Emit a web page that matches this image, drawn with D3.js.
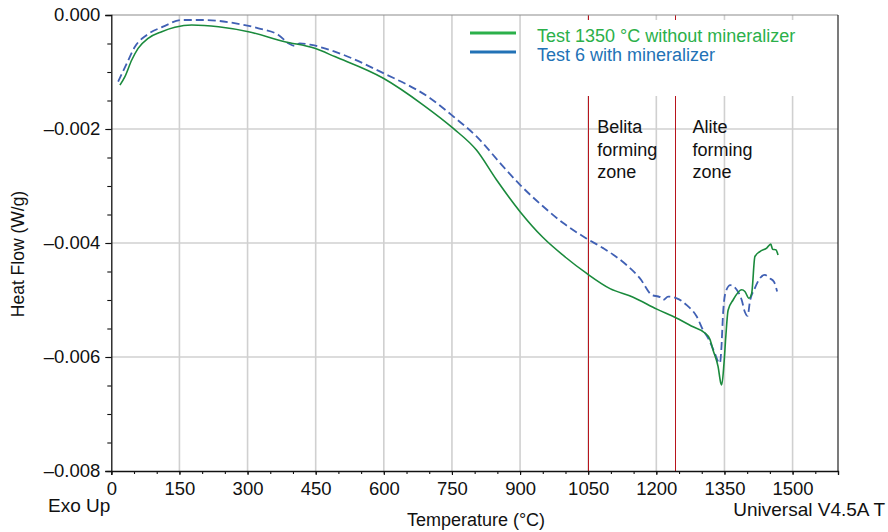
<!DOCTYPE html>
<html><head><meta charset="utf-8">
<script src="https://cdn.jsdelivr.net/npm/d3@7"></script>
<style>
body{margin:0;background:#fff;}
svg{display:block;font-family:"Liberation Sans",Arial,Helvetica,sans-serif;}
</style></head>
<body><svg id="chart" width="888" height="532"></svg>
<script>
// ---- data ----
const greenT = [19,30,45,59,81,111,140,177,236,302,382,448,492,599,687,753,804,848,900,950,1000,1046,1098,1149,1201,1245,1281,1307,1318,1325,1336,1342,1344,1349,1353,1358,1369,1388,1395,1404,1410,1417,1428,1443,1452,1456,1463,1468];
const greenH = [-0.00123,-0.00108,-0.00079,-0.000585,-0.00041,-0.000293,-0.000216,-0.000175,-0.000205,-0.000293,-0.000468,-0.000585,-0.00073,-0.00111,-0.00158,-0.00199,-0.00237,-0.00289,-0.00345,-0.0039,-0.00425,-0.00453,-0.0048,-0.00495,-0.00516,-0.00532,-0.00547,-0.00558,-0.00569,-0.00588,-0.00617,-0.00646,-0.00649,-0.00611,-0.00564,-0.00518,-0.005,-0.00482,-0.00485,-0.00497,-0.00488,-0.00424,-0.00415,-0.00409,-0.00402,-0.00411,-0.00412,-0.00421];
const blueT = [15,34,52,78,114,155,206,265,324,368,390,404,415,441,492,599,702,753,804,863,900,951,995,1046,1083,1135,1164,1190,1208,1215,1226,1245,1267,1289,1303,1314,1329,1336,1340,1343,1347,1353,1363,1377,1388,1395,1401,1406,1417,1428,1439,1450,1459,1466];
const blueH = [-0.00117,-0.00085,-0.000556,-0.00035,-0.000205,-0.000088,-0.000088,-0.000135,-0.000234,-0.00035,-0.000497,-0.000544,-0.000497,-0.000526,-0.000643,-0.00102,-0.00146,-0.00178,-0.00213,-0.00266,-0.00298,-0.00336,-0.00365,-0.00392,-0.00409,-0.00439,-0.00462,-0.00491,-0.00495,-0.005,-0.00494,-0.00497,-0.00509,-0.00529,-0.00553,-0.00567,-0.00594,-0.00608,-0.00611,-0.00588,-0.00523,-0.00485,-0.00474,-0.00482,-0.005,-0.00521,-0.00528,-0.00503,-0.00479,-0.00462,-0.00456,-0.00462,-0.00468,-0.00485];
const xTicks = [0,150,300,450,600,750,900,1050,1200,1350,1500];
const yTicks = [0,-0.002,-0.004,-0.006,-0.008];
const zoneLines = [1050,1242];
const seriesNames = ["Test 1350 °C without mineralizer","Test 6 with mineralizer"];
const zoneLabels = [["Belita","forming","zone"],["Alite","forming","zone"]];

// ---- layout ----
const L=111.3, R=838, T=15, B=471;
const svg = d3.select("#chart");
const x = d3.scaleLinear().domain([0,1600]).range([L,R]);
const y = d3.scaleLinear().domain([-0.008,0]).range([B,T]);
const crisp = v => Math.round(v) + 0.5;

// grid
svg.append("g").selectAll("line").data(xTicks.filter(d=>d>0)).join("line")
  .attr("x1",d=>x(d)).attr("x2",d=>x(d)).attr("y1",T).attr("y2",B)
  .attr("stroke","#d0d0d0").attr("stroke-width",1.6);
svg.append("g").selectAll("line").data(yTicks.filter(d=>d<0 && d>-0.008)).join("line")
  .attr("x1",L).attr("x2",R).attr("y1",d=>y(d)).attr("y2",d=>y(d))
  .attr("stroke","#d0d0d0").attr("stroke-width",1.6);

// zone lines
svg.append("g").selectAll("line").data(zoneLines).join("line")
  .attr("x1",d=>crisp(x(d))).attr("x2",d=>crisp(x(d))).attr("y1",T).attr("y2",B)
  .attr("stroke","#b8141c").attr("stroke-width",1);

// legend background box
svg.append("rect").attr("x",525).attr("y",20).attr("width",R-525-0.5).attr("height",76).attr("fill","#fff");

// frame: top gray, right black
svg.append("line").attr("x1",L).attr("x2",R).attr("y1",T).attr("y2",T).attr("stroke","#8c8c8c").attr("stroke-width",1.2);
svg.append("line").attr("x1",R).attr("x2",R).attr("y1",T).attr("y2",B).attr("stroke","#222").attr("stroke-width",1.2);

// curves
const line = d3.line().x(d=>x(d[0])).y(d=>y(d[1])).curve(d3.curveMonotoneX);
const gData = greenT.map((t,i)=>[t,greenH[i]]);
const bData = blueT.map((t,i)=>[t,blueH[i]]);
svg.append("path").datum(bData).attr("d",line).attr("fill","none")
  .attr("stroke","#4060b4").attr("stroke-width",1.8).attr("stroke-dasharray","8,4");
svg.append("path").datum(gData).attr("d",line).attr("fill","none")
  .attr("stroke","#1a8a3c").attr("stroke-width",1.6);

// axes
const fmtY = d => d===0 ? "0.000" : "\u2013" + d3.format(".3f")(-d);
const yAxis = svg.append("g").attr("transform",`translate(${L},0)`)
  .call(d3.axisLeft(y).tickValues(yTicks).tickFormat(fmtY).tickSize(6).tickPadding(5));
const yMinor = svg.append("g").attr("transform",`translate(${L},0)`)
  .call(d3.axisLeft(y).tickValues(d3.range(-0.008,0.0001,0.0005)).tickFormat("").tickSize(4));
const xAxis = svg.append("g").attr("transform",`translate(0,${B})`)
  .call(d3.axisBottom(x).tickValues(xTicks).tickFormat(d3.format("d")).tickSize(4).tickPadding(7));
const xMinor = svg.append("g").attr("transform",`translate(0,${B})`)
  .call(d3.axisBottom(x).tickValues(d3.range(0,1601,50)).tickFormat("").tickSize(3));
[yAxis,yMinor,xAxis,xMinor].forEach(g=>{
  g.select(".domain").attr("stroke","#111").attr("stroke-width",1.3);
  g.selectAll(".tick line").attr("stroke","#111").attr("stroke-width",1.1);
  g.selectAll("text").attr("font-size",18.5).attr("fill","#111")
   .attr("font-family",'"Liberation Sans",Arial,sans-serif');
});
yMinor.select(".domain").remove();
xMinor.select(".domain").remove();

// axis titles
svg.append("text").attr("transform","translate(24,254) rotate(-90)").attr("text-anchor","middle")
  .attr("font-size",17.5).attr("fill","#111").text("Heat Flow (W/g)");
svg.append("text").attr("x",476).attr("y",526).attr("text-anchor","middle")
  .attr("font-size",18).attr("fill","#111").text("Temperature (°C)");
svg.append("text").attr("x",48).attr("y",512)
  .attr("font-size",19).attr("fill","#111").text("Exo Up");
svg.append("text").attr("x",885).attr("y",516).attr("text-anchor","end")
  .attr("font-size",19).attr("fill","#111").text("Universal V4.5A T");

// legend
const legColors = ["#2bb04a","#2272b6"];
const legY = [33,52];
seriesNames.forEach((n,i)=>{
  svg.append("line").attr("x1",470).attr("x2",516).attr("y1",legY[i]).attr("y2",legY[i])
    .attr("stroke",legColors[i]).attr("stroke-width",3);
  svg.append("text").attr("x",537).attr("y",legY[i]+9).attr("font-size",18)
    .attr("fill",legColors[i]).text(n);
});

// zone labels
const zoneOffsets = [9,17];
zoneLabels.forEach((lines,i)=>{
  const lx = x(zoneLines[i]) + zoneOffsets[i];
  const t = svg.append("text").attr("x",lx).attr("y",133)
    .attr("font-size",18).attr("fill","#111");
  lines.forEach((s,j)=>t.append("tspan").attr("x",lx).attr("dy",j===0?0:22.7).text(s));
});
</script></body></html>
